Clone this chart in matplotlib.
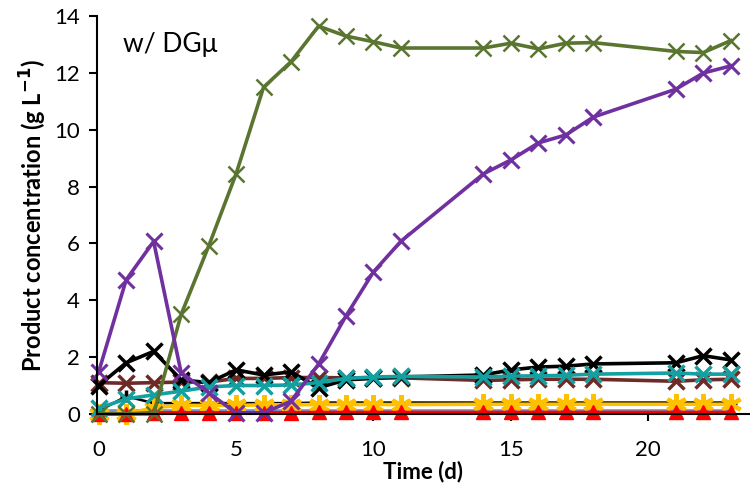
import matplotlib
matplotlib.use("Agg")
import matplotlib.pyplot as plt

plt.rcParams['font.family'] = ['Lato', 'DejaVu Sans']

# sampling days
days = [0, 1, 2, 3, 4, 5, 6, 7, 8, 9, 10, 11, 14, 15, 16, 17, 18, 21, 22, 23]

# product concentrations (g/L)
green = [0.0, 0.0, 0.0, 3.5, 5.9, 8.45, 11.5, 12.4, 13.65, 13.3, 13.1, 12.88,
         12.88, 13.05, 12.85, 13.05, 13.07, 12.76, 12.72, 13.14]
purple = [1.48, 4.72, 6.07, 1.45, 0.75, 0.03, 0.03, 0.45, 1.75, 3.45, 5.0, 6.08,
          8.45, 8.94, 9.54, 9.82, 10.45, 11.43, 12.0, 12.25]
black = [1.0, 1.8, 2.2, 1.2, 1.1, 1.55, 1.37, 1.48, 0.92, 1.2, 1.25, 1.3,
         1.37, 1.55, 1.65, 1.68, 1.76, 1.8, 2.05, 1.9]
brown = [1.1, 1.08, 1.1, 1.12, 1.12, 1.25, 1.25, 1.28, 1.28, 1.27, 1.27, 1.27,
         1.18, 1.2, 1.22, 1.22, 1.22, 1.15, 1.2, 1.22]
teal = [0.2, 0.53, 0.67, 0.8, 0.95, 1.0, 1.0, 1.02, 1.1, 1.25, 1.3, 1.32,
        1.3, 1.33, 1.34, 1.36, 1.4, 1.44, 1.4, 1.4]
black_small = [0.1, 0.62, 0.38, 0.38, 0.38, 0.38, 0.38, 0.38, 0.4, 0.4, 0.4, 0.4,
               0.4, 0.4, 0.4, 0.4, 0.4, 0.4, 0.4, 0.4]
yellow = [0.0, 0.0, 0.22, 0.3, 0.3, 0.3, 0.32, 0.32, 0.33, 0.33, 0.33, 0.33,
          0.34, 0.34, 0.34, 0.34, 0.34, 0.34, 0.34, 0.34]
blue = [0.12, 0.12, 0.12, 0.12, 0.12, 0.12, 0.12, 0.12, 0.12, 0.12, 0.12, 0.12,
        0.12, 0.12, 0.12, 0.12, 0.12, 0.12, 0.12, 0.12]
red = [0.0, 0.0, 0.04, 0.04, 0.04, 0.04, 0.04, 0.04, 0.05, 0.05, 0.05, 0.05,
       0.05, 0.05, 0.05, 0.05, 0.05, 0.05, 0.05, 0.05]

fig = plt.figure(figsize=(7.5, 4.91), dpi=100)
ax = fig.add_axes([0.129, 0.157, 0.871, 0.81])

lw = 2.6
ax.plot(days, blue, '-', color='#6f93c8', lw=lw, clip_on=False)
ax.plot(days, black_small, '-+', color='black', lw=1.8, ms=8, mew=2.5, clip_on=False)
ax.plot(days, yellow, '-', marker=(6, 2, 0), color='#ffc000', lw=lw, ms=15,
        mew=3, clip_on=False)
ax.plot(days, red, '-^', color='#ff0000', lw=lw, ms=10, clip_on=False)
ax.plot(days, brown, '-x', color='#6e2a26', lw=lw, ms=12, mew=2.5, clip_on=False)
ax.plot(days, black, '-x', color='black', lw=lw, ms=12, mew=2.5, clip_on=False)
ax.plot(days, teal, '-x', color='#14a0a0', lw=lw, ms=12, mew=2.5, clip_on=False)
ax.plot(days, green, '-x', color='#5a7530', lw=lw, ms=11, mew=1.8, clip_on=False)
ax.plot(days, purple, '-x', color='#7030a0', lw=lw, ms=11, mew=2.2, clip_on=False)

ax.set_xlim(-0.07, 23.7)
ax.set_ylim(0, 14)
ax.set_xticks([0, 5, 10, 15, 20])
ax.set_yticks(range(0, 15, 2))
ax.spines['top'].set_visible(False)
ax.spines['right'].set_visible(False)
ax.spines['left'].set_linewidth(1.5)
ax.spines['bottom'].set_linewidth(1.5)
ax.tick_params(axis='y', direction='out', length=6, width=1.5, labelsize=16, pad=6)
ax.tick_params(axis='x', direction='out', length=5, width=1.5, labelsize=16, pad=14)

ax.set_xlabel('Time (d)', fontsize=16, fontweight='bold', labelpad=0)
ax.set_ylabel('Product concentration (g L$^{\\mathbf{-1}}$)', fontsize=17,
              fontweight='bold', labelpad=4)
ax.text(0.04, 0.93, 'w/ DGμ', transform=ax.transAxes, fontsize=19,
        ha='left', va='center')

fig.savefig('out.png', dpi=100)
